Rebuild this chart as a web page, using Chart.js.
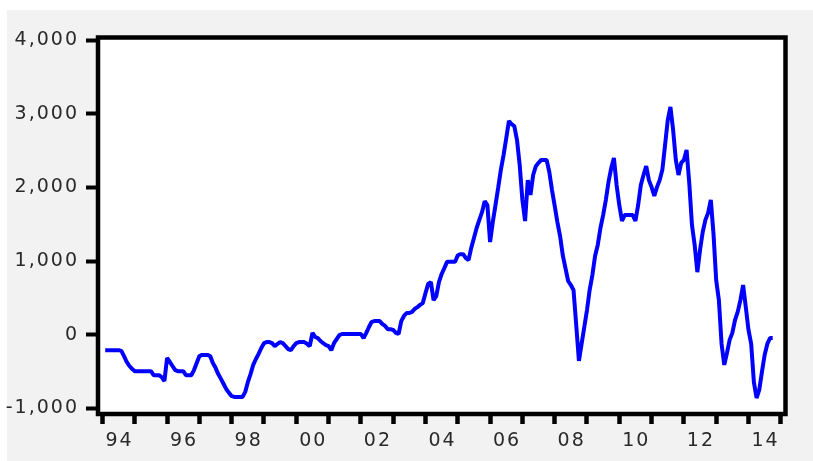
<!DOCTYPE html>
<html>
<head>
<meta charset="utf-8">
<script src="https://cdn.jsdelivr.net/npm/chart.js@4/dist/chart.umd.min.js"></script>
<style>
  html, body { margin: 0; padding: 0; background: #ffffff; }
  #wrap { width: 813px; height: 461px; position: relative; }
</style>
</head>
<body>
<div id="wrap"><canvas id="c"></canvas></div>
<script>
// Monthly series, starting Feb 1994
const startYear = 1994;
const startMonth = 2;
const values = [
  -210,-210,-210,-210,-210,-210,-220,-290,-370,-425,-465,-495,
  -495,-495,-495,-495,-495,-495,-550,-550,-550,-575,-630,-315,
  -370,-425,-480,-495,-495,-495,-550,-550,-550,-480,-385,-290,
  -275,-275,-275,-290,-385,-450,-535,-600,-670,-740,-790,-835,
  -845,-845,-845,-845,-780,-645,-535,-410,-330,-260,-180,-115,
  -100,-100,-115,-155,-125,-100,-115,-155,-195,-210,-155,-115,
  -100,-100,-100,-125,-155,25,-30,-45,-85,-115,-140,-155,
  -210,-115,-60,-5,10,10,10,10,10,10,10,10,
  -45,25,105,175,185,185,185,145,120,75,75,65,
  25,10,185,255,295,295,310,350,375,405,430,565,
  690,715,470,525,715,825,905,990,990,990,990,1080,
  1095,1095,1040,1015,1180,1315,1450,1560,1665,1815,1760,1260,
  1530,1760,1995,2240,2440,2670,2905,2860,2835,2645,2305,1830,
  1545,2100,1900,2170,2290,2335,2375,2375,2375,2210,1965,1750,
  1530,1340,1080,905,730,675,605,130,-355,-125,105,335,
  610,810,1070,1220,1450,1625,1830,2075,2265,2400,2035,1760,
  1545,1625,1625,1625,1625,1545,1760,2035,2170,2290,2100,2005,
  1885,2005,2100,2240,2575,2915,3095,2780,2375,2170,2335,2375,
  2510,2060,1490,1220,850,1150,1395,1560,1655,1830,1370,740,
  470,-125,-410,-250,-70,25,200,310,470,675,375,65,
  -125,-645,-860,-750,-505,-275,-125,-45,-45
];
const yTickValues = [-1000, 0, 1000, 2000, 3000, 4000];
const yTickLabels = ['-1,000', '0', '1,000', '2,000', '3,000', '4,000'];
const yearTicks = [1994,1995,1996,1997,1998,1999,2000,2001,2002,2003,2004,
                   2005,2006,2007,2008,2009,2010,2011,2012,2013,2014,2015];
const labelYears = [1994,1996,1998,2000,2002,2004,2006,2008,2010,2012,2014];
const labelTexts = ['94','96','98','00','02','04','06','08','10','12','14'];

const monthIndex = (y, m) => (y - startYear) * 12 + (m - 1);
const points = values.map((v, i) => ({ x: monthIndex(startYear, startMonth) + i, y: v }));

const FONT = { family: 'DejaVu Sans', size: 19 };

const framePlugin = {
  id: 'frame',
  beforeDraw(chart) {
    const ctx = chart.ctx;
    const a = chart.chartArea;
    ctx.save();
    ctx.fillStyle = '#ffffff';
    ctx.fillRect(0, 0, chart.width, chart.height);
    ctx.fillStyle = '#f2f2f2';
    ctx.fillRect(7, 10, chart.width - 7, chart.height - 10);
    ctx.fillStyle = '#ffffff';
    ctx.fillRect(a.left, a.top, a.right - a.left, a.bottom - a.top);
    ctx.restore();
    ctx.letterSpacing = '2px';
  },
  afterDatasetsDraw(chart) {
    const ctx = chart.ctx;
    const a = chart.chartArea;
    ctx.save();
    ctx.strokeStyle = '#000000';
    ctx.lineWidth = 4.5;
    ctx.strokeRect(a.left, a.top, a.right - a.left, a.bottom - a.top);
    ctx.restore();
  },
  afterDraw(chart) {
    chart.ctx.letterSpacing = '0px';
  }
};

new Chart(document.getElementById('c'), {
  type: 'line',
  data: {
    datasets: [{
      data: points,
      borderColor: '#0000ff',
      borderWidth: 4,
      pointRadius: 0,
      tension: 0,
      borderCapStyle: 'butt',
      borderJoinStyle: 'bevel',
      fill: false
    }]
  },
  options: {
    responsive: true,
    maintainAspectRatio: false,
    animation: false,
    events: [],
    layout: { padding: { top: 37.5, right: 27.5, bottom: 0, left: 0 } },
    plugins: { legend: { display: false }, tooltip: { enabled: false } },
    scales: {
      x: {
        type: 'linear',
        min: -1.672,
        max: 253.75,
        afterBuildTicks(scale) {
          scale.ticks = yearTicks.map(y => ({ value: monthIndex(y, 1) }));
        },
        afterFit(scale) { scale.height = 47; },
        grid: {
          drawOnChartArea: false,
          drawTicks: true,
          tickLength: 10,
          tickWidth: 4.5,
          tickColor: '#000000'
        },
        border: { display: false },
        ticks: {
          autoSkip: false,
          maxRotation: 0,
          minRotation: 0,
          padding: 6,
          labelOffset: 17,
          color: '#2a2a2a',
          font: FONT,
          callback(value) {
            const yr = startYear + value / 12;
            const i = labelYears.indexOf(yr);
            return i >= 0 ? labelTexts[i] : '';
          }
        }
      },
      y: {
        type: 'linear',
        min: -1077,
        max: 4038,
        afterBuildTicks(scale) {
          scale.ticks = yTickValues.map(v => ({ value: v }));
        },
        afterFit(scale) { scale.width = 98; },
        grid: {
          drawOnChartArea: false,
          drawTicks: true,
          tickLength: 12,
          tickWidth: 4,
          tickColor: '#000000'
        },
        border: { display: false },
        ticks: {
          padding: 7,
          color: '#2a2a2a',
          font: FONT,
          callback(value) {
            const i = yTickValues.indexOf(value);
            return i >= 0 ? yTickLabels[i] : '';
          }
        }
      }
    }
  },
  plugins: [framePlugin]
});
</script>
</body>
</html>
